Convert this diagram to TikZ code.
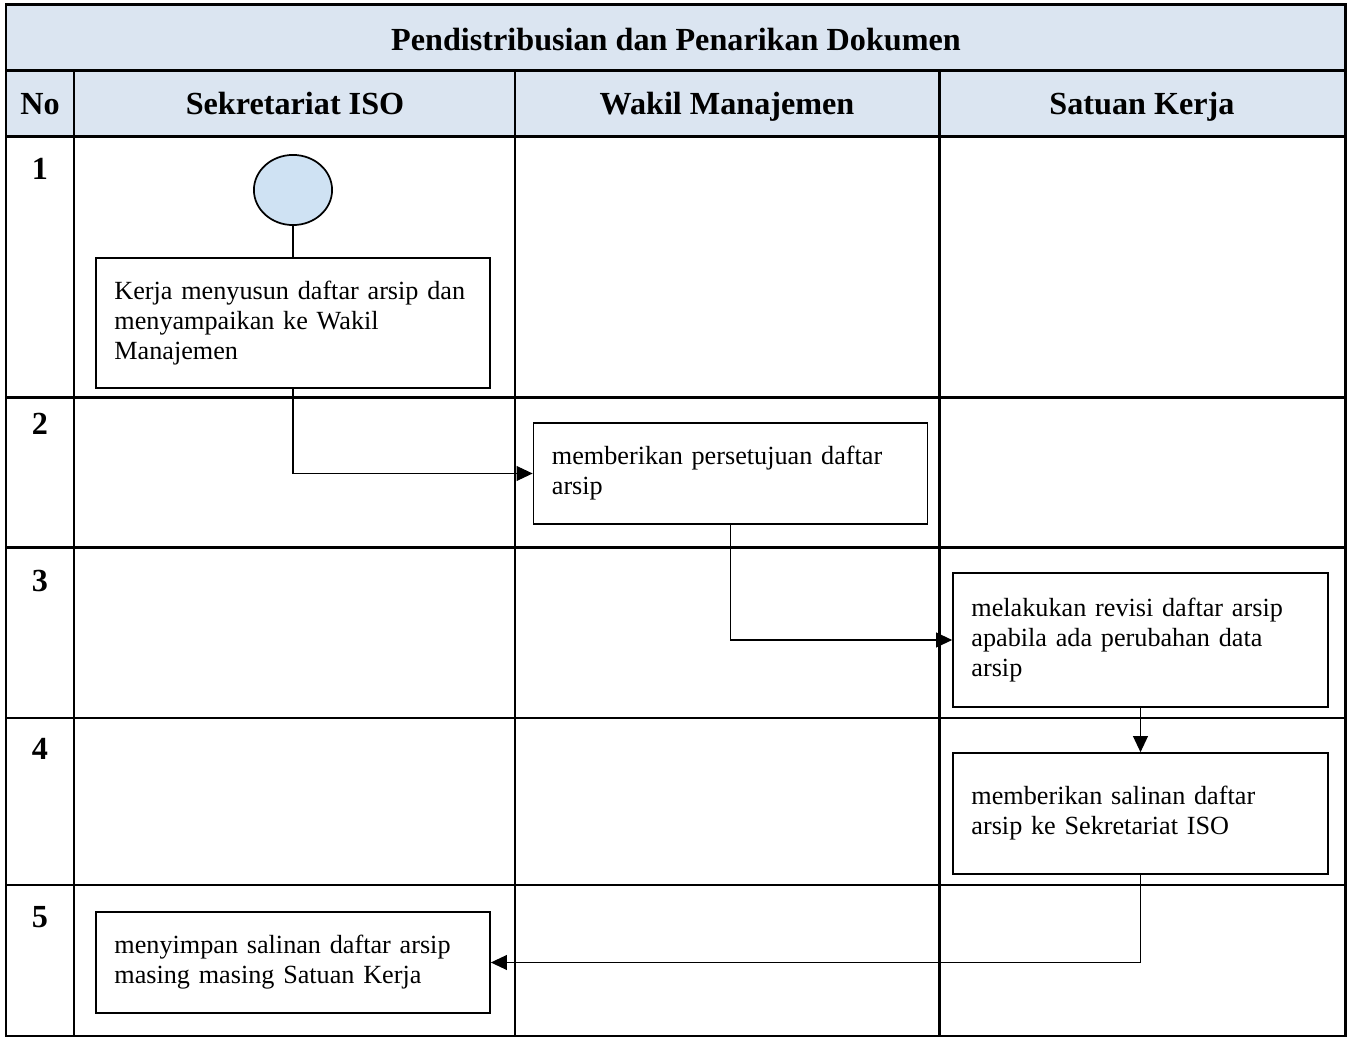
\documentclass[tikz,border=0pt]{standalone}
\usepackage{fontspec}
\setmainfont{Liberation Serif}
\usetikzlibrary{arrows.meta,shapes.geometric}
\definecolor{hdrblue}{RGB}{219,229,241}
\definecolor{startblue}{RGB}{207,226,243}

\begin{document}
\begin{tikzpicture}[x=0.435pt,y=-0.435pt,>={Triangle[length=7pt,width=6.5pt]},
  grid/.style={line width=1.3pt},
  hdr/.style={anchor=base,font=\fontsize{14}{16}\selectfont\bfseries},
  act/.style={draw,line width=0.75pt,align=left,inner xsep=8pt,
    font=\fontsize{11.4}{13}\selectfont},
  wide/.style={minimum width=171.4pt,text width=155.4pt},
  narrow/.style={minimum width=163.1pt,text width=147.1pt},
  flow/.style={line width=0.5pt}]
  \useasboundingbox (0,0) rectangle (1351,1039);

  % Table
  \fill[hdrblue] (6,5) rectangle (1345,137);
  \draw[grid] (6,5) rectangle (1345,1036);
  \draw[grid] (6,71) -- (1345,71);
  \foreach \y in {137,398,548,718,885} \draw[grid] (6,\y) -- (1345,\y);
  \foreach \x in {74,515,939} \draw[grid] (\x,71) -- (\x,1036);

  % Headers
  \node[hdr] (title) at (676,51) {Pendistribusian dan Penarikan Dokumen};
  \node[hdr] (hno) at (40,115) {No};
  \node[hdr] (hsek) at (295,115) {Sekretariat ISO};
  \node[hdr] (hwakil) at (727,115) {Wakil Manajemen};
  \node[hdr] (hsatuan) at (1142,115) {Satuan Kerja};

  % Step numbers
  \node[hdr] (no1) at (40,180) {1};
  \node[hdr] (no2) at (40,435) {2};
  \node[hdr] (no3) at (40,592) {3};
  \node[hdr] (no4) at (40,760) {4};
  \node[hdr] (no5) at (40,928) {5};

  % Activities
  \node[ellipse,draw,fill=startblue,line width=0.75pt,minimum width=34pt,minimum height=30.5pt] (start) at (293,190) {};
  \node[act,wide,minimum height=56.6pt] (s1) at (293,323) {Kerja menyusun daftar arsip dan\\menyampaikan ke Wakil\\Manajemen};
  \node[act,wide,minimum height=43.9pt] (s2) at (730.5,473.5) {memberikan persetujuan daftar\\arsip};
  \node[act,narrow,minimum height=58.3pt] (s3) at (1140.5,640) {melakukan revisi daftar arsip\\apabila ada perubahan data\\arsip};
  \node[act,narrow,minimum height=52.6pt] (s4) at (1140.5,813.5) {memberikan salinan daftar\\arsip ke Sekretariat ISO};
  \node[act,wide,minimum height=43.9pt] (s5) at (293,962.5) {menyimpan salinan daftar arsip\\masing masing Satuan Kerja};

  % Flow
  \draw[line width=1.3pt] (start) -- (s1);
  \draw[flow,->] (s1) |- (s2);
  \draw[flow,->] (s2) |- (s3);
  \draw[flow,->] (s3) -- (s4);
  \draw[flow,->] (s4) |- (s5);
\end{tikzpicture}
\end{document}
